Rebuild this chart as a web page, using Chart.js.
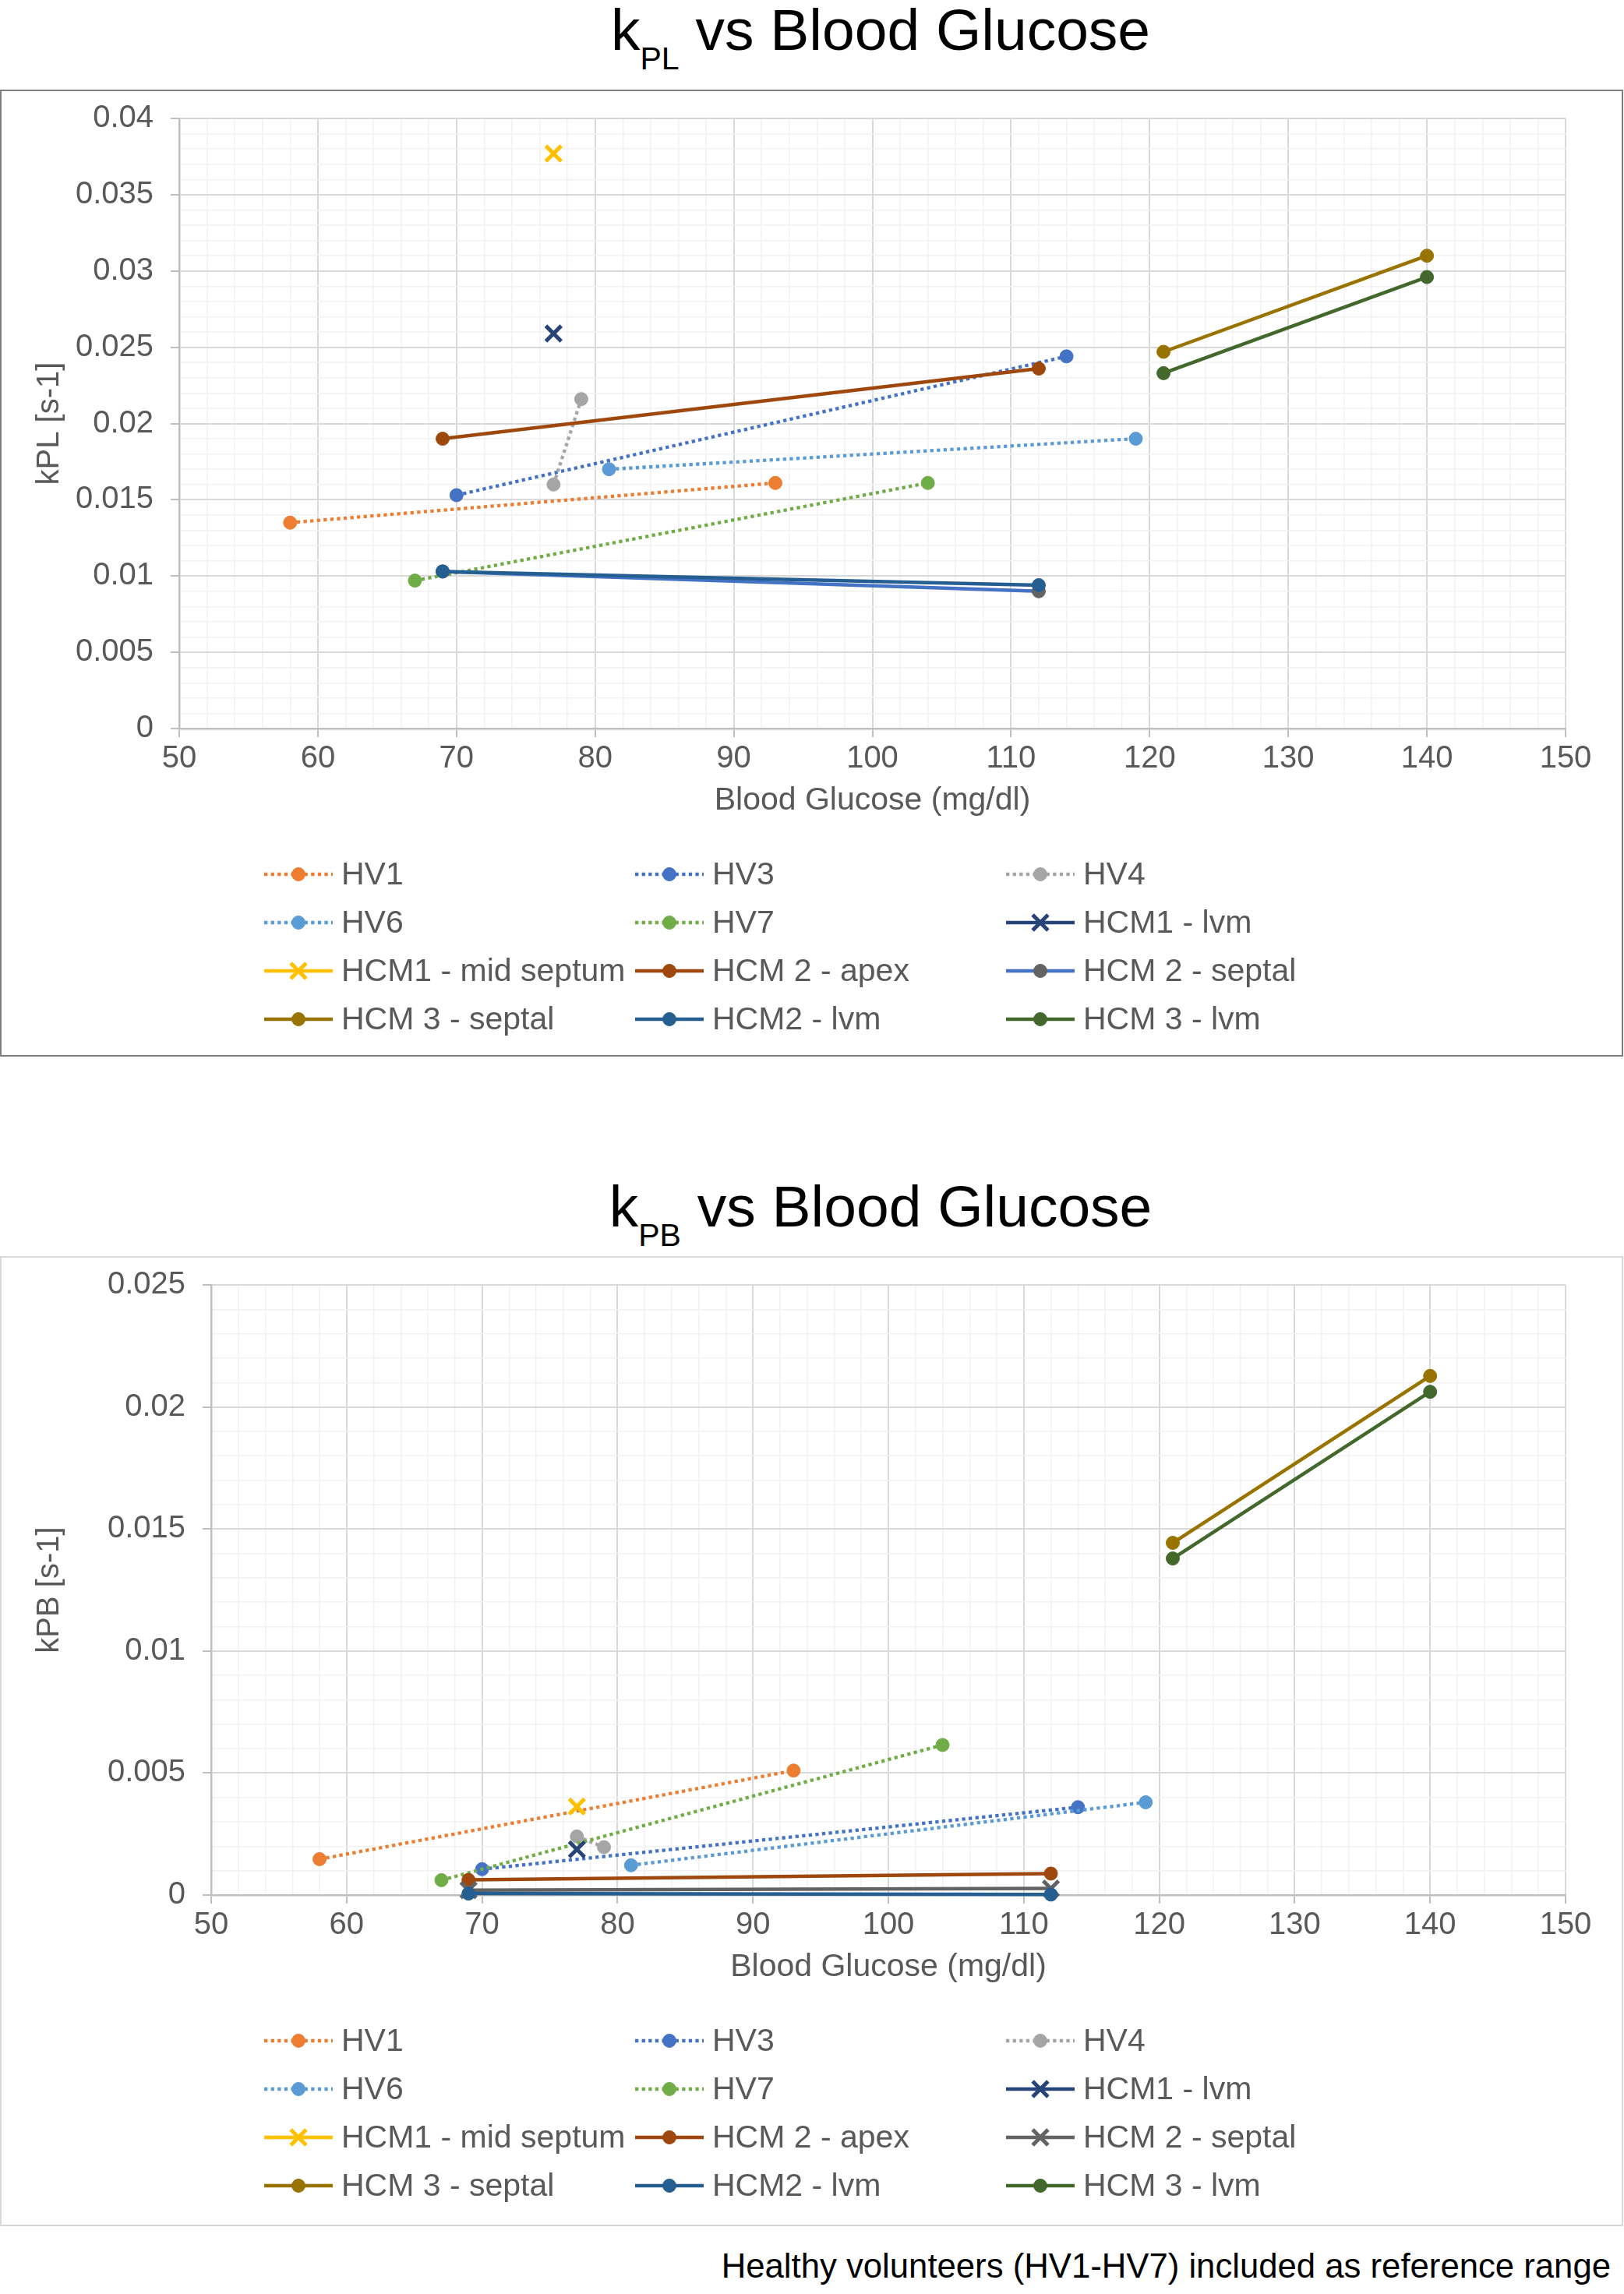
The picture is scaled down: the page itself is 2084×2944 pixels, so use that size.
<!DOCTYPE html>
<html>
<head>
<meta charset="utf-8">
<title>kPL and kPB vs Blood Glucose</title>
<script src="https://cdn.jsdelivr.net/npm/chart.js@4.4.1/dist/chart.umd.min.js"></script>
<style>
    body { margin: 0; width: 2084px; height: 2944px; position: relative; background: #fff;
           font-family: "Liberation Sans", Arial, sans-serif; }
    .title { position: absolute; left: 1130px; transform: translateX(-50%); font-size: 75px;
             line-height: 75px; color: #000; white-space: nowrap; }
    .title sub { font-size: 41px; vertical-align: -25px; line-height: 0; }
    .frame { position: absolute; left: 0; width: 2083px; box-sizing: border-box; border: 2px solid #7f7f7f; }
    canvas { position: absolute; left: 0; }
    .note { position: absolute; right: 17px; top: 2882px; font-size: 43.7px; line-height: 52px;
            color: #000; white-space: nowrap; }
</style>
</head>
<body>

<div class="title" style="top:1px">k<sub>PL</sub> vs Blood Glucose</div>
<div class="frame" style="top:115px;height:1241px;border-color:#7f7f7f"></div>
<canvas id="kplGraph" width="2084" height="1240" style="top:115px"></canvas>

<div class="title" style="top:1511px">k<sub>PB</sub> vs Blood Glucose</div>
<div class="frame" style="top:1612px;height:1245px;border-color:#d9d9d9"></div>
<canvas id="kpbGraph" width="2084" height="1244" style="top:1612px"></canvas>

<div class="note">Healthy volunteers (HV1-HV7) included as reference range</div>

<script>
//Series, in legend order
const seriesNames = [
    'HV1', 'HV3', 'HV4',
    'HV6', 'HV7', 'HCM1 - lvm',
    'HCM1 - mid septum', 'HCM 2 - apex', 'HCM 2 - septal',
    'HCM 3 - septal', 'HCM2 - lvm', 'HCM 3 - lvm'
];

//Blood glucose (mg/dl) of each measurement
const glucoseValues = [
    [58, 93], [70, 114], [77, 79],
    [81, 119], [67, 104], [77],
    [77], [69, 112], [69, 112],
    [121, 140], [69, 112], [121, 140]
];

//kPL [s-1]
const kplValues = [
    [0.0135, 0.0161], [0.0153, 0.0244], [0.016, 0.0216],
    [0.017, 0.019], [0.0097, 0.0161], [0.0259],
    [0.0377], [0.019, 0.0236], [0.0103, 0.009],
    [0.0247, 0.031], [0.0103, 0.0094], [0.0233, 0.0296]
];

//kPB [s-1]
const kpbValues = [
    [0.00147, 0.0051], [0.00106, 0.0036], [0.0024, 0.00196],
    [0.00122, 0.0038], [0.00061, 0.00615], [0.00187],
    [0.00363], [0.00062, 0.00088], [0.0002, 0.00027],
    [0.01443, 0.02127], [0.00006, 0.00002], [0.01379, 0.02062]
];

//Axis ranges
const glucoseRange = [50, 150];
const kplRange = [0, 0.04];
const kpbRange = [0, 0.025];

//Series styles
const seriesColors = [
    '#ED7D31', '#4472C4', '#A5A5A5',
    '#5B9BD5', '#70AD47', '#264478',
    '#FFC000', '#9E480E', '#4472C4',
    '#997300', '#255E91', '#43682B'
];
const dottedSeries = [true, true, true, true, true, false, false, false, false, false, false, false];
const markerStyles = ['circle', 'circle', 'circle', 'circle', 'circle', 'crossRot',
                      'crossRot', 'circle', 'circle', 'circle', 'circle', 'circle'];

Chart.defaults.font.family = "'Liberation Sans', Arial, sans-serif";
Chart.defaults.color = '#595959';

function isMultiple(v, step) {
    return Math.abs(v / step - Math.round(v / step)) < 1e-6;
}

function makeDatasets(yValues, septal) {
    return seriesNames.map(function(name, i) {
        var lineColor = seriesColors[i];
        var markerColor = seriesColors[i];
        var style = markerStyles[i];
        //HCM 2 - septal is styled differently in the two graphs
        if (i === 8) {
            lineColor = septal.line;
            markerColor = septal.marker;
            style = septal.style;
        }
        var cross = style === 'crossRot';
        return {
            label: name,
            data: glucoseValues[i].map((g, j) => ({x: g, y: yValues[i][j]})),
            showLine: true,
            borderColor: lineColor,
            borderWidth: dottedSeries[i] ? 4.3 : 4.5,
            borderDash: dottedSeries[i] ? [4.3, 4.3] : [],
            pointStyle: style,
            pointRadius: cross ? 14 : 8.5,
            pointHoverRadius: cross ? 14 : 8.5,
            pointBorderWidth: cross ? 5 : 1,
            pointBackgroundColor: markerColor,
            pointBorderColor: markerColor,
            clip: false,
            order: -i
        };
    });
}

function drawMarker(ctx, ds, cx, cy) {
    var r = ds.pointRadius;
    ctx.fillStyle = ds.pointBackgroundColor;
    ctx.strokeStyle = ds.pointBorderColor;
    ctx.lineWidth = ds.pointBorderWidth;
    ctx.beginPath();
    if (ds.pointStyle === 'crossRot') {
        var d = r * Math.SQRT1_2;
        ctx.moveTo(cx - d, cy - d); ctx.lineTo(cx + d, cy + d);
        ctx.moveTo(cx + d, cy - d); ctx.lineTo(cx - d, cy + d);
        ctx.stroke();
    } else {
        ctx.arc(cx, cy, r, 0, Math.PI * 2);
        ctx.fill();
        ctx.stroke();
    }
}

//Legend laid out as a 3 column grid, like the original
const gridLegendPlugin = {
    id: 'gridLegend',
    afterDraw(chart, args, opts) {
        const ctx = chart.ctx;
        chart.data.datasets.forEach(function(ds, i) {
            const x = opts.left + (i % 3) * opts.columnWidth;
            const y = opts.top + Math.floor(i / 3) * opts.rowHeight;
            ctx.save();
            ctx.strokeStyle = ds.borderColor;
            ctx.lineWidth = ds.borderWidth;
            ctx.setLineDash(ds.borderDash);
            ctx.beginPath();
            ctx.moveTo(x, y);
            ctx.lineTo(x + opts.lineLength, y);
            ctx.stroke();
            ctx.setLineDash([]);
            drawMarker(ctx, ds, x + opts.lineLength / 2, y);
            ctx.fillStyle = '#595959';
            ctx.font = opts.fontSize + 'px ' + Chart.defaults.font.family;
            ctx.textBaseline = 'middle';
            ctx.fillText(ds.label, x + opts.textOffset, y + 2);
            ctx.restore();
        });
    }
};

function gridOptions(major) {
    return {
        color: c => (c.tick && isMultiple(c.tick.value, major)) ? '#d9d9d9' : '#f2f2f2',
        lineWidth: c => (c.tick && isMultiple(c.tick.value, major)) ? 2 : 1.5,
        tickColor: c => (c.tick && isMultiple(c.tick.value, major)) ? '#bfbfbf' : 'rgba(0,0,0,0)',
        tickLength: 11
    };
}

function xAxisOptions() {
    return {
        type: 'linear',
        min: glucoseRange[0],
        max: glucoseRange[1],
        ticks: {
            stepSize: 2,
            autoSkip: false,
            maxRotation: 0,
            padding: 4,
            color: '#595959',
            font: {size: 40},
            callback: v => isMultiple(v, 10) ? String(v) : ''
        },
        grid: gridOptions(10),
        border: {color: '#bfbfbf', width: 2.5},
        title: {
            display: true,
            text: 'Blood Glucose (mg/dl)',
            color: '#595959',
            font: {size: 41},
            padding: {top: 0, bottom: 13}
        },
        afterFit: s => { s.height = 130; }
    };
}

function yAxisOptions(range, titleText, width) {
    return {
        type: 'linear',
        min: range[0],
        max: range[1],
        ticks: {
            stepSize: 0.001,
            autoSkip: false,
            padding: 22,
            color: '#595959',
            font: {size: 40},
            callback: v => isMultiple(v, 0.005) ? String(parseFloat(v.toFixed(3))) : ''
        },
        grid: gridOptions(0.005),
        border: {color: '#bfbfbf', width: 2.5},
        title: {
            display: true,
            text: titleText,
            color: '#595959',
            font: {size: 40},
            padding: {top: 40, bottom: 0}
        },
        //fixed axis width, and no extra room for the end labels
        afterFit: s => {
            s.width = width;
            s.paddingTop = 0;
            s.paddingBottom = 0;
        }
    };
}

function graphConfig(yValues, septal, range, titleText, axisWidth, bottomPad) {
    return {
        type: 'scatter',
        data: {datasets: makeDatasets(yValues, septal)},
        options: {
            responsive: false,
            animation: false,
            layout: {padding: {left: 0, top: 37, right: 75, bottom: bottomPad}},
            scales: {
                x: xAxisOptions(),
                y: yAxisOptions(range, titleText, axisWidth)
            },
            plugins: {
                legend: {display: false},
                tooltip: {enabled: false},
                gridLegend: {
                    left: 339, top: 1007, columnWidth: 476, rowHeight: 62,
                    lineLength: 88, textOffset: 99, fontSize: 41
                }
            }
        },
        plugins: [gridLegendPlugin]
    };
}

//Display the graphs
var kplChart = new Chart(
    document.getElementById('kplGraph'),
    graphConfig(kplValues, {line: '#4472C4', marker: '#636363', style: 'circle'},
                kplRange, 'kPL [s-1]', 230, 290)
);

var kpbChart = new Chart(
    document.getElementById('kpbGraph'),
    graphConfig(kpbValues, {line: '#636363', marker: '#636363', style: 'crossRot'},
                kpbRange, 'kPB [s-1]', 271, 294)
);
</script>
</body>
</html>
